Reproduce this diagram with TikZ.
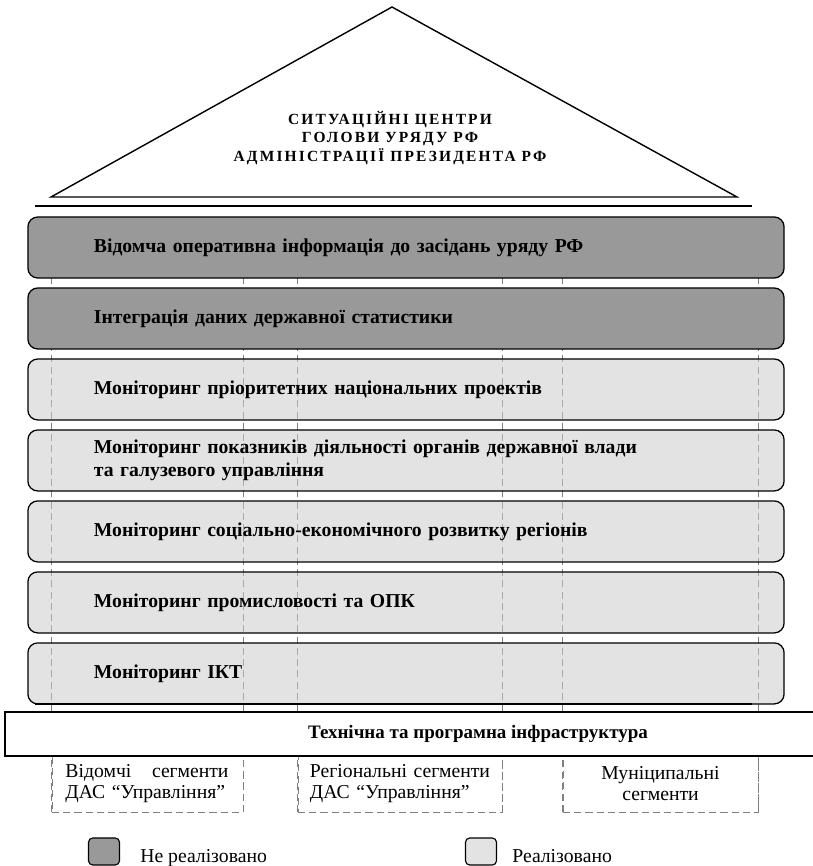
\documentclass[tikz,border=0pt]{standalone}
\usepackage{fontspec}
\setmainfont{Liberation Serif}
\newfontfamily\spacedserif[LetterSpace=14]{Liberation Serif}
\usetikzlibrary{positioning}
\usetikzlibrary{backgrounds}

\begin{document}
\begin{tikzpicture}[x=0.025cm,y=-0.025cm,node distance=0.2175cm,
  level/.style={draw,line width=0.9pt,rounded corners=7pt,minimum width=18.9cm,minimum height=1.525cm,
    text width=15.6cm,inner xsep=1.65cm,align=left,font=\bfseries\fontsize{14}{16.3}\selectfont},
  notdone/.style={level,fill=black!40},
  done/.style={level,fill=black!20,fill opacity=0.55,text opacity=1},
  segment/.style={draw=gray,line width=0.6pt,dash pattern=on 5pt off 3pt,inner sep=0pt,
    minimum height=1.4cm,font=\fontsize{14}{15}\selectfont},
  guide/.style={gray,line width=0.6pt,dash pattern=on 5pt off 3pt},
  rule/.style={line width=2pt},
  key/.style={draw,line width=0.8pt,rounded corners=3pt,minimum width=0.775cm,minimum height=0.675cm,inner sep=0pt},
  keytext/.style={inner sep=0pt,anchor=base west,font=\fontsize{14}{16}\selectfont}]
  \useasboundingbox (0,0) rectangle (812,866);

  % roof
  \coordinate (apex) at (392,7);
  \coordinate (eaveL) at (51,197);
  \coordinate (eaveR) at (737,197);
  \draw[line width=1pt] (eaveL) -- (apex) -- (eaveR) -- cycle;
  \node[align=center,font=\spacedserif\bfseries\fontsize{11}{13}\selectfont] (sc) at (390,138)
    {СИТУАЦІЙНІ ЦЕНТРИ\\ГОЛОВИ УРЯДУ РФ\\АДМІНІСТРАЦІЇ ПРЕЗИДЕНТА РФ};

  \coordinate (r1L) at (35,206);
  \coordinate (r1R) at (752,206);
  \draw[rule] (r1L) -- (r1R);

  % levels
  \node[notdone] (b1) at (406,247.5) {Відомча оперативна інформація до засідань уряду РФ};
  \node[notdone,below=of b1] (b2) {Інтеграція даних державної статистики};
  \node[done,below=of b2] (b3) {Моніторинг пріоритетних національних проектів};
  \node[done,below=of b3] (b4) {Моніторинг показників діяльності органів державної влади\\та галузевого управління};
  \node[done,below=of b4] (b5) {Моніторинг соціально-економічного розвитку регіонів};
  \node[done,below=of b5] (b6) {Моніторинг промисловості та ОПК};
  \node[done,below=of b6] (b7) {Моніторинг ІКТ};

  \coordinate (r2L) at (35,704);
  \coordinate (r2R) at (752,704);
  \draw[rule] (r2L) -- (r2R);

  % segments
  \node[segment,minimum width=4.775cm,align=left,text width=4.1cm] (s1) at (147.5,784) {Відомчі\hspace{10pt} сегменти\\ДАС “Управління”};
  \node[segment,minimum width=5.1cm,align=left,text width=4.5cm] (s2) at (400,784) {Регіональні сегменти\\ДАС “Управління”};
  \node[segment,minimum width=4.875cm,align=center] (s3) at (660.5,784) {Муніципальні\\сегменти};

  \node[draw,fill=white,line width=0.9pt,minimum width=23.65cm,minimum height=1.1cm,
    font=\bfseries\fontsize{13.5}{16}\selectfont] (infra) at (478,734) {Технічна та програмна інфраструктура};

  \begin{scope}[on background layer]
    \foreach \s in {s1,s2,s3} {
      \draw[guide] (\s.south west) -- (\s.south west |- b1.north);
      \draw[guide] (\s.south east) -- (\s.south east |- b1.north);
    }
  \end{scope}

  % legend
  \node[key,fill=black!40] (k1) at (104,851.5) {};
  \node[keytext] (k1t) at ([xshift=0.5cm,yshift=0.075cm]k1.south east) {Не реалізовано};
  \node[key,fill=black!11] (k2) at (481,851.5) {};
  \node[keytext] (k2t) at ([xshift=0.375cm,yshift=0.075cm]k2.south east) {Реалізовано};
\end{tikzpicture}
\end{document}
